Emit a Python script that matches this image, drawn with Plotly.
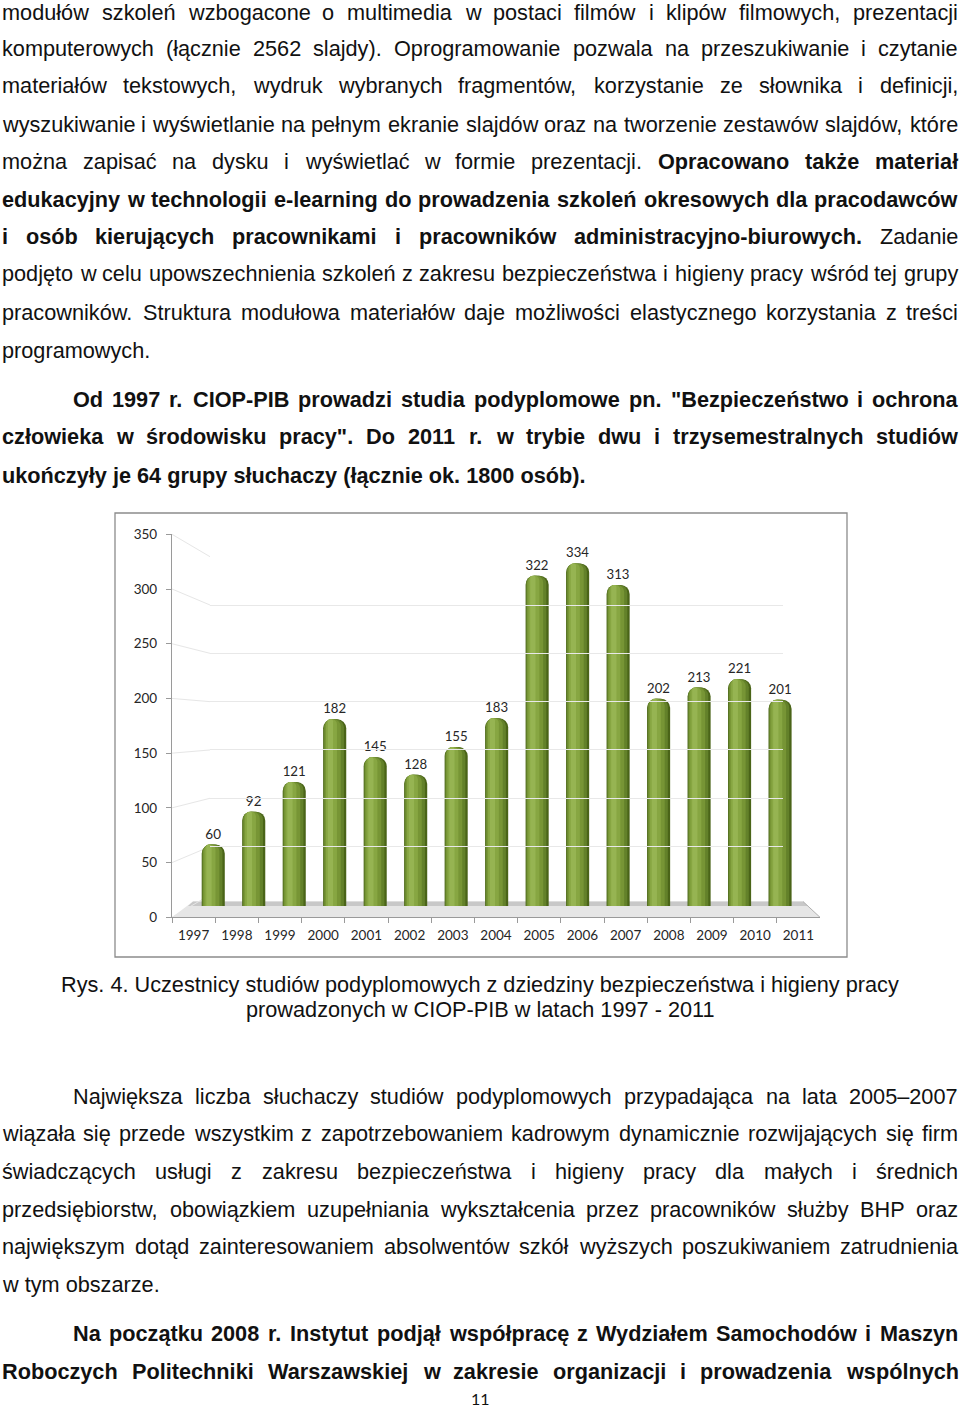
import plotly.graph_objects as go

# ---------------- data ----------------
years = [1997, 1998, 1999, 2000, 2001, 2002, 2003, 2004, 2005, 2006, 2007, 2008, 2009, 2010, 2011]
participants = [60, 92, 121, 182, 145, 128, 155, 183, 322, 334, 313, 202, 213, 221, 201]
y_ticks = [0, 50, 100, 150, 200, 250, 300, 350]

W, H = 960, 1410
FS = 21.7
TXT = "#111111"
FONT = "Liberation Sans"


def px(x):
    return x / W


def py(y):
    return 1 - y / H


# ---- Arial / Liberation Sans advance widths (1/1000 em) ----
REG = {}
for chars, w in [("ijlł", 222), (" ,./:;!fIt", 278), ("()-r", 333), ("'", 191), ('"', 355),
                 ("cksvxyzćśźżJ", 500), ("abdeghnopquąęńó0123456789–LŁ", 556),
                 ("FTZŹŻ", 611), ("ABEKPSVXYŚ", 667), ("CDHNRUwŃ", 722), ("GOQÓ", 778),
                 ("Mm", 833), ("W", 944)]:
    for c in chars:
        REG[c] = w
BOLD = {}
for chars, w in [(" ,.ijlłI", 278), ("!()-ft:;", 333), ("r", 389), ('"', 474), ("'", 238),
                 ("zżź", 500), ("acesvxykąćęśJ0123456789", 556),
                 ("bdghnopquńóFTLZ", 611), ("EPSVXYŚ", 667), ("ABCDHKNRU", 722),
                 ("GOQw", 778), ("M", 833), ("m", 889), ("W", 944)]:
    for c in chars:
        BOLD[c] = w


def tw(s, bold):
    t = BOLD if bold else REG
    return sum(t.get(c, 556) for c in s) * FS / 1000.0


# (y centre, left x, mode, text)  ** toggles bold
lines = [
    (13, 2, "j", "modułów szkoleń wzbogacone o multimedia w postaci filmów i klipów filmowych, prezentacji"),
    (48, 2, "j", "komputerowych (łącznie 2562 slajdy). Oprogramowanie pozwala na przeszukiwanie i czytanie"),
    (86, 2, "j", "materiałów tekstowych, wydruk wybranych fragmentów, korzystanie ze słownika i definicji,"),
    (124, 2, "j", "wyszukiwanie i wyświetlanie na pełnym ekranie slajdów oraz na tworzenie zestawów slajdów, które"),
    (161, 2, "j", "można zapisać na dysku i wyświetlać w formie prezentacji. **Opracowano także materiał"),
    (199, 2, "j", "**edukacyjny w technologii e-learning do prowadzenia szkoleń okresowych dla pracodawców"),
    (237, 2, "j", "**i osób kierujących pracownikami i pracowników administracyjno-biurowych.** Zadanie"),
    (274, 2, "j", "podjęto w celu upowszechnienia szkoleń z zakresu bezpieczeństwa i higieny pracy wśród tej grupy"),
    (312, 2, "j", "pracowników. Struktura modułowa materiałów daje możliwości elastycznego korzystania z treści"),
    (350, 2, "l", "programowych."),
    (399, 73, "j", "**Od 1997 r. CIOP-PIB prowadzi studia podyplomowe pn. \"Bezpieczeństwo i ochrona"),
    (437, 2, "j", "**człowieka w środowisku pracy\". Do 2011 r. w trybie dwu i trzysemestralnych studiów"),
    (475, 2, "l", "**ukończyły je 64 grupy słuchaczy (łącznie ok. 1800 osób)."),
    (984, 480, "c", "Rys. 4. Uczestnicy studiów podyplomowych z dziedziny bezpieczeństwa i higieny pracy"),
    (1009, 480, "c", "prowadzonych w CIOP-PIB w latach 1997 - 2011"),
    (1096, 73, "j", "Największa liczba słuchaczy studiów podyplomowych przypadająca na lata 2005–2007"),
    (1133, 2, "j", "wiązała się przede wszystkim z zapotrzebowaniem kadrowym dynamicznie rozwijających się firm"),
    (1171, 2, "j", "świadczących usługi z zakresu bezpieczeństwa i higieny pracy dla małych i średnich"),
    (1209, 2, "j", "przedsiębiorstw, obowiązkiem uzupełniania wykształcenia przez pracowników służby BHP oraz"),
    (1246, 2, "j", "największym dotąd zainteresowaniem absolwentów szkół wyższych poszukiwaniem zatrudnienia"),
    (1284, 2, "l", "w tym obszarze."),
    (1333, 73, "j", "**Na początku 2008 r. Instytut podjął współpracę z Wydziałem Samochodów i Maszyn"),
    (1371, 2, "j", "**Roboczych Politechniki Warszawskiej w zakresie organizacji i prowadzenia wspólnych"),
]
RIGHT = 958

annotations = []


def words_of(text):
    out = []
    bold = False
    for i, part in enumerate(text.split("**")):
        if i > 0:
            bold = not bold
        for wd in part.split():
            out.append((wd, bold))
    return out


def fmt(wd, bold):
    return "<b>%s</b>" % wd if bold else wd


for (yc, xl, mode, text) in lines:
    wl = words_of(text)
    base = dict(xref="paper", yref="paper", showarrow=False, yanchor="middle",
                borderpad=0, borderwidth=0, font=dict(family=FONT, size=FS, color=TXT))
    if mode == "j":
        widths = [tw(w, b) for w, b in wl]
        gap = (RIGHT - xl - sum(widths)) / (len(wl) - 1)
        x = xl
        for (w, b), ww in zip(wl, widths):
            annotations.append(dict(base, x=px(x), y=py(yc), xanchor="left", text=fmt(w, b)))
            x += ww + gap
    else:
        s = " ".join(fmt(w, b) for w, b in wl)
        annotations.append(dict(base, x=px(xl), y=py(yc),
                                xanchor="left" if mode == "l" else "center", text=s))

annotations.append(dict(xref="paper", yref="paper", showarrow=False, x=px(480), y=py(1409),
                        xanchor="center", yanchor="bottom", text="11", borderpad=0,
                        font=dict(family="Lato", size=16, color=TXT)))

# ---------------- chart geometry ----------------
LBL = dict(family="Lato", size=13.5, color="#262626")
BAR_DOM_X = [px(193), px(800.3)]
BAR_DOM_Y = [py(906.1), py(534)]
BAR_RANGE = [0, (906.1 - 534) / 1.026]
FR_DOM_X = [px(172), px(820)]
FR_DOM_Y = [py(917.3), py(534.3)]
BK_DOM_X = [px(210), px(783)]
BK_DOM_Y = [py(894.9), py(556.7)]

fig = go.Figure()

layers = [
    (0.57, -0.285, "#4a6418", 9),
    (0.50, -0.272, "#63812a", 8),
    (0.40, -0.250, "#779535", 7),
    (0.27, -0.215, "#87a642", 6),
    (0.13, -0.170, "#96b452", 4),
]
for i, (wd, off, col, cr) in enumerate(layers):
    fig.add_trace(go.Bar(
        x=years, y=participants, width=wd, offset=off,
        marker=dict(color=col, line=dict(width=0), cornerradius=cr),
        text=participants if i == 0 else None,
        textposition="outside" if i == 0 else "none",
        textfont=LBL, cliponaxis=False, showlegend=False, hoverinfo="skip",
        xaxis="x", yaxis="y"))

fig.add_trace(go.Scatter(x=years, y=participants, mode="markers", marker=dict(opacity=0),
                         showlegend=False, hoverinfo="skip", xaxis="x2", yaxis="y2"))
fig.add_trace(go.Scatter(x=years, y=participants, mode="markers", marker=dict(opacity=0),
                         showlegend=False, hoverinfo="skip", xaxis="x3", yaxis="y3"))


def front_y(v):
    return FR_DOM_Y[0] + (FR_DOM_Y[1] - FR_DOM_Y[0]) * v / 350.0


def back_y(v):
    return BK_DOM_Y[0] + (BK_DOM_Y[1] - BK_DOM_Y[0]) * v / 350.0


shapes = []
shapes.append(dict(type="path", xref="paper", yref="paper", layer="below",
                   path="M %f,%f L %f,%f L %f,%f L %f,%f Z" % (px(172), py(917.3), px(820), py(917.3),
                                                              px(803), py(901.5), px(193), py(901.5)),
                   fillcolor="#e6e6e6", line=dict(width=0)))
shapes.append(dict(type="path", xref="paper", yref="paper", layer="below",
                   path="M %f,%f L %f,%f L %f,%f L %f,%f Z" % (px(188), py(906), px(808), py(906),
                                                              px(803), py(901.5), px(193), py(901.5)),
                   fillcolor="#c8c8c8", line=dict(width=0)))
shapes.append(dict(type="line", xref="paper", yref="paper", layer="below",
                   x0=px(803), y0=py(901.5), x1=px(820), y1=py(917.3),
                   line=dict(color="#b0b0b0", width=1)))
for v in y_ticks:
    shapes.append(dict(type="line", xref="paper", yref="paper", layer="below",
                       x0=FR_DOM_X[0], y0=front_y(v), x1=BK_DOM_X[0], y1=back_y(v),
                       line=dict(color="#e6e6e6", width=1)))
shapes.append(dict(type="rect", xref="paper", yref="paper", layer="above",
                   x0=px(115), y0=py(957), x1=px(847), y1=py(513),
                   line=dict(color="#8c8c8c", width=1.3), fillcolor="rgba(0,0,0,0)"))

fig.update_layout(
    template="none",
    width=W, height=H, autosize=False,
    margin=dict(l=0, r=0, t=0, b=0, pad=0, autoexpand=False),
    paper_bgcolor="white", plot_bgcolor="rgba(0,0,0,0)",
    barmode="overlay",
    showlegend=False,
    xaxis=dict(domain=BAR_DOM_X, type="category", categoryorder="array", categoryarray=years,
               range=[-0.5, 14.5], visible=False, anchor="y", automargin=False),
    yaxis=dict(domain=BAR_DOM_Y, range=BAR_RANGE, visible=False, anchor="x", automargin=False),
    xaxis2=dict(domain=FR_DOM_X, type="category", categoryorder="array", categoryarray=years,
                range=[-0.5, 14.5], anchor="y2", showgrid=False, zeroline=False,
                showline=True, linecolor="#9a9a9a", linewidth=1.2,
                ticks="outside", tickson="boundaries", ticklen=5, tickcolor="#9a9a9a",
                tickfont=LBL, ticklabelstandoff=5, automargin=False),
    yaxis2=dict(domain=FR_DOM_Y, range=[0, 350], anchor="x2", tickvals=y_ticks,
                showgrid=False, zeroline=False, showline=True, linecolor="#9a9a9a", linewidth=1.2,
                ticks="outside", ticklen=5, tickcolor="#9a9a9a", tickfont=LBL,
                ticklabelstandoff=6, automargin=False),
    xaxis3=dict(domain=BK_DOM_X, type="category", categoryorder="array", categoryarray=years,
                range=[-0.5, 14.5], visible=False, anchor="y3", automargin=False),
    yaxis3=dict(domain=BK_DOM_Y, range=[0, 350], anchor="x3", tickvals=y_ticks[1:],
                showgrid=True, gridcolor="#e8e8e8", gridwidth=1, zeroline=False,
                showline=False, showticklabels=False, ticks="", automargin=False),
    annotations=annotations,
    shapes=shapes,
)

fig.write_html("out.html", config={"displayModeBar": False, "responsive": False},
               post_script="document.body.style.margin='0px';document.body.style.overflow='hidden';")
